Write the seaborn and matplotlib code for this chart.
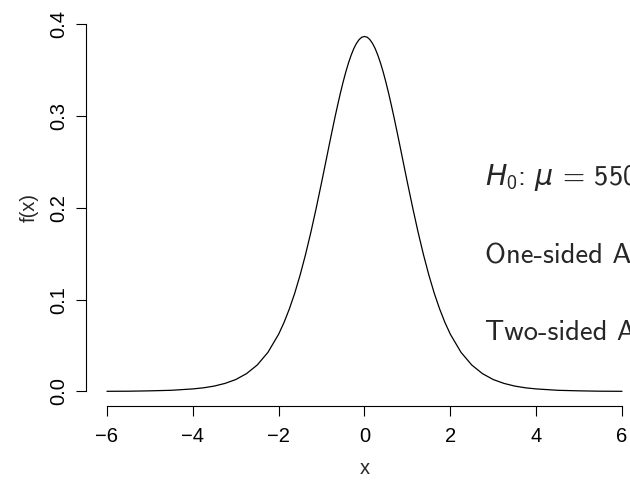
import matplotlib
matplotlib.use("Agg")
import matplotlib.pyplot as plt
import seaborn as sns

# density values
x_vals = [-6, -5.5, -5, -4.5, -4, -3.75, -3.5, -3.25, -3, -2.75, -2.5, -2.25,
          -2, -1.875, -1.75, -1.625, -1.5, -1.375, -1.25, -1.125, -1,
          -0.9375, -0.875, -0.8125, -0.75, -0.6875, -0.625, -0.5625, -0.5,
          -0.4375, -0.375, -0.3125, -0.25, -0.1875, -0.125, -0.0625, 0,
          0.0625, 0.125, 0.1875, 0.25, 0.3125, 0.375, 0.4375, 0.5, 0.5625,
          0.625, 0.6875, 0.75, 0.8125, 0.875, 0.9375, 1, 1.125, 1.25, 1.375,
          1.5, 1.625, 1.75, 1.875, 2, 2.25, 2.5, 2.75, 3, 3.25, 3.5, 3.75,
          4, 4.5, 5, 5.5, 6]
f_vals = [0.0002, 0.0003, 0.0007, 0.0013, 0.0028, 0.0040, 0.0059, 0.0088,
          0.0130, 0.0194, 0.0288, 0.0426, 0.0624, 0.0751, 0.0900, 0.1071,
          0.1268, 0.1489, 0.1733, 0.1997, 0.2276,
          0.2419, 0.2563, 0.2707, 0.2848, 0.2987, 0.3120, 0.3248, 0.3367,
          0.3477, 0.3575, 0.3661, 0.3734, 0.3791, 0.3833, 0.3859, 0.3867,
          0.3859, 0.3833, 0.3791, 0.3734, 0.3661, 0.3575, 0.3477, 0.3367,
          0.3248, 0.3120, 0.2987, 0.2848, 0.2707, 0.2563, 0.2419,
          0.2276, 0.1997, 0.1733, 0.1489, 0.1268, 0.1071, 0.0900, 0.0751,
          0.0624, 0.0426, 0.0288, 0.0194, 0.0130, 0.0088, 0.0059, 0.0040,
          0.0028, 0.0013, 0.0007, 0.0003, 0.0002]

x_ticks = [-6, -4, -2, 0, 2, 4, 6]
y_ticks = [0.0, 0.1, 0.2, 0.3, 0.4]
y_ticklabels = ["0.0", "0.1", "0.2", "0.3", "0.4"]

notes = [r"$H_0$: $\mu$ = 550", "One-sided A", "Two-sided A"]
note_y = [0.2251, 0.1390, 0.0561]

sns.set_style("white")
plt.rcParams["font.family"] = ["Liberation Sans", "DejaVu Sans"]
plt.rcParams["mathtext.fontset"] = "custom"
plt.rcParams["mathtext.it"] = "DejaVu Sans:italic"
plt.rcParams["mathtext.rm"] = "cmss10"

fig = plt.figure(figsize=(6.3, 4.8), dpi=100)
ax = fig.add_axes([0.1371, 0.1538, 0.8829, 0.8263])

sns.lineplot(x=x_vals, y=f_vals, color="black", linewidth=0.9, ax=ax)

ax.set_xlim(-6.48, 6.48)
ax.set_ylim(-0.016, 0.416)
ax.set_xticks(x_ticks)
ax.set_yticks(y_ticks)
ax.set_yticklabels(y_ticklabels)

for side in ["top", "right"]:
    ax.spines[side].set_visible(False)
ax.spines["left"].set_bounds(0, 0.4)
ax.spines["bottom"].set_bounds(-6, 6)
for side in ["left", "bottom"]:
    ax.spines[side].set_linewidth(0.8)
    ax.spines[side].set_color("black")

ax.tick_params(axis="both", direction="out", length=7, width=0.8,
               color="black", labelsize=14.5, labelcolor="black",
               bottom=True, left=True)
ax.tick_params(axis="x", pad=8)
ax.tick_params(axis="y", pad=6, labelrotation=90)
for lab in ax.get_yticklabels():
    lab.set_va("center")

ax.set_xlabel("x", fontsize=14.5)
ax.set_ylabel("f(x)", fontsize=14.5)
ax.xaxis.set_label_coords(0.5, -0.133)
ax.yaxis.set_label_coords(-0.085, 0.5)

for txt, yy in zip(notes, note_y):
    ax.text(2.8, yy, txt, fontsize=20.5, family="cmss10",
            va="baseline", ha="left", clip_on=False)

fig.savefig("out.png", dpi=100)
